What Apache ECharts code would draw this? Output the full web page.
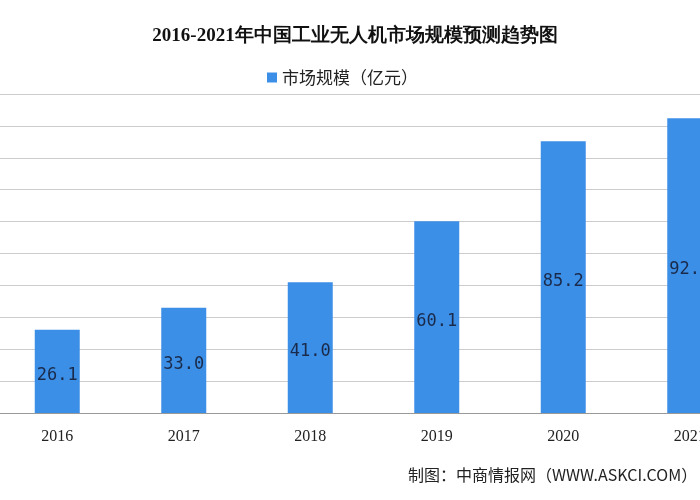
<!DOCTYPE html><html><head><meta charset="utf-8"><script src="https://cdn.jsdelivr.net/npm/echarts@6/dist/echarts.min.js"></script></head><body style="margin:0"><div id="c" style="width:700px;height:500px"></div><script>
const categories=['2016','2017','2018','2019','2020','2021'];
const values=[26.1,33.0,41.0,60.1,85.2,92.4];
const ch=echarts.init(document.getElementById('c'));
ch.setOption({
backgroundColor:'#fff',
title:{text:'2016-2021年中国工业无人机市场规模预测趋势图',left:350,textAlign:'center',top:22,textStyle:{fontFamily:'serif',fontWeight:'bold',fontSize:19,color:'#111'}},
legend:{top:64,left:262,itemWidth:10,itemHeight:10,icon:'rect',textStyle:{fontSize:17,color:'#222',fontFamily:'Noto Sans CJK SC'},data:['市场规模（亿元）']},
graphic:[{type:'text',left:408,top:467,style:{text:'制图：中商情报网（WWW.ASKCI.COM）',fontSize:16,fill:'#222',fontFamily:'Noto Sans CJK SC'}}],
grid:{left:-6,top:94,right:-53,bottom:87,containLabel:false,outerBoundsMode:'none'},
xAxis:{type:'category',data:categories,axisLine:{lineStyle:{color:'#999'}},axisTick:{lineStyle:{color:'#999'}},axisLabel:{fontSize:16,color:'#222',fontFamily:'serif',margin:16}},
yAxis:{type:'value',min:0,max:100,interval:10,axisLabel:{show:false},splitLine:{lineStyle:{color:'#ccc'}}},
series:[{name:'市场规模（亿元）',type:'bar',data:values,barWidth:45,itemStyle:{color:'#3c8fe6'},label:{show:true,position:'inside',offset:[0,4],formatter:p=>p.value.toFixed(1),fontSize:17,color:'#1a2a4a',fontFamily:'DejaVu Sans Mono'}}]
});
</script></body></html>
